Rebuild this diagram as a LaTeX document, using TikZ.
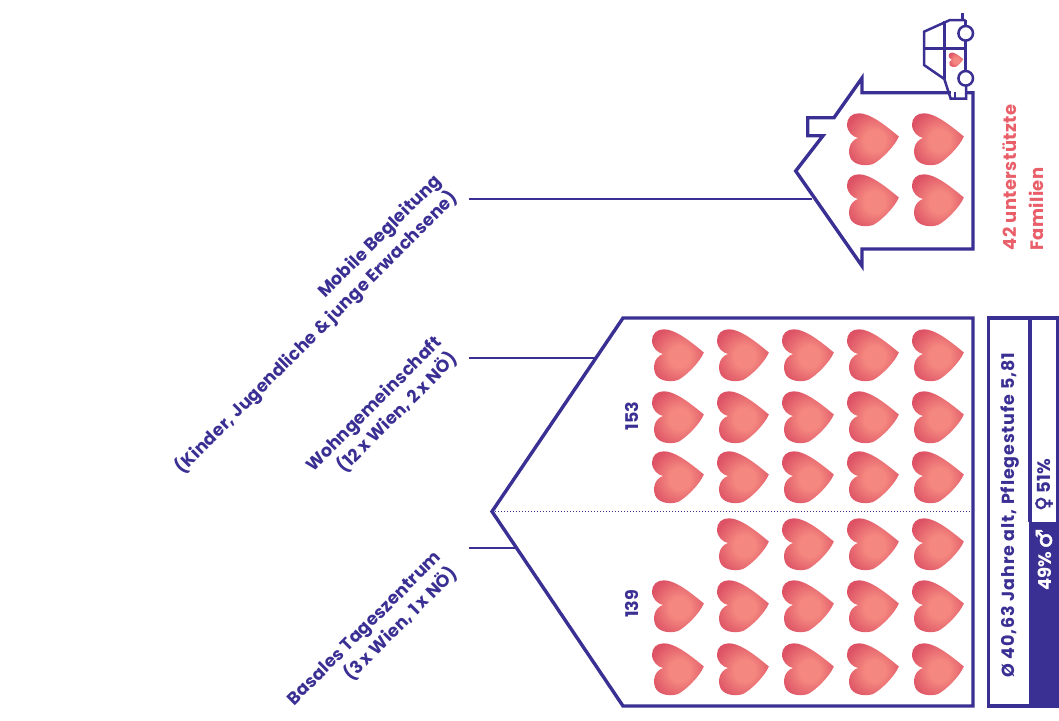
\documentclass[tikz,border=0pt]{standalone}
\usepackage{fontspec}
\setmainfont{Poppins}
\newfontfamily\symfont[FakeBold=2.5]{DejaVu Sans}
\definecolor{ink}{HTML}{3A2F93}
\definecolor{rosy}{HTML}{E95F69}
\definecolor{heartin}{HTML}{F4877F}
\definecolor{heartout}{HTML}{DD5265}
\pgfdeclareradialshading{heartshade}{\pgfpoint{2bp}{-1bp}}{color(0bp)=(heartin); color(10bp)=(heartin); color(29bp)=(heartout); color(60bp)=(heartout)}
\tikzset{
  outline/.style={draw=ink,line width=3.4pt,line join=miter,fill=white},
  thin line/.style={draw=ink,line width=2pt},
  carline/.style={draw=ink,line width=2.5pt,line join=miter},
  lab/.style={text=ink,font=\bfseries\fontsize{17.5}{23}\selectfont\addfontfeature{LetterSpace=1.2},rotate=45,anchor=east,align=right,inner sep=0pt},
  num/.style={text=ink,font=\bfseries\fontsize{17.5}{18}\selectfont,rotate=90,inner sep=0pt},
  stat/.style={font=\bfseries\fontsize{17.5}{18}\selectfont\addfontfeature{LetterSpace=5},rotate=90,inner sep=0pt},
  gender/.style={font=\bfseries\fontsize{18}{18}\selectfont,rotate=90,inner sep=0pt},
}
\newcommand{\heartat}[3]{%
  \begin{scope}[shift={(#1,#2)},scale=#3]
  \shade[shading=heartshade]
    (0,0) .. controls (-5,-1) and (-11,-6) .. (-11,-13.5)
    .. controls (-11.2,-20) and (-6,-25) .. (1,-24.7)
    .. controls (11,-24.5) and (23,-16.5) .. (40.8,-1.5)
    .. controls (37,8) and (23,22) .. (15,26)
    .. controls (7,28.5) and (-3,27) .. (-7,21)
    .. controls (-11,14) and (-9,3) .. (0,0) -- cycle;
  \end{scope}}
\begin{document}
\begin{tikzpicture}[x=1pt,y=-1pt]
\useasboundingbox (0,0) rectangle (1059,720);
% coordinates
\coordinate (c1a) at (469,198.5);
\coordinate (c1b) at (812,198.5);
\coordinate (c2a) at (469,357.5);
\coordinate (c2b) at (596,357.5);
\coordinate (c3a) at (469,548);
\coordinate (c3b) at (516,548);
% connectors
\draw[thin line] (c1a) -- (c1b);
\draw[thin line] (c2a) -- (c2b);
\draw[thin line] (c3a) -- (c3b);
% small house
\draw[outline] (795.7,171) -- (823,135.7) -- (807.7,135.7) -- (807.7,117.7) -- (834,117.7)
  -- (862,78) -- (862,92.7) -- (973,92.7) -- (973,249) -- (862,249) -- (862,266) -- cycle;
% car
\fill[white] (951,91) rectangle (965,98.7);
\draw[carline] (962.3,13) -- (962.3,20);
\draw[carline] (965.7,20) -- (950,20) -- (924,31.7) -- (924,65) -- (944.3,79) -- (950.7,98.7) -- (966,98.7) -- (966,86);
\draw[carline] (965.7,20) -- (965.7,26);
\draw[carline] (965.7,41) -- (965.7,71);
\draw[carline] (944.3,21) -- (944.3,79);
\draw[carline] (924,48.3) -- (965.7,48.3);
\draw[carline] (955,92) -- (955,98.7);
\draw[carline,fill=white] (965.7,33.3) circle[radius=7.3];
\draw[carline,fill=white] (965.7,78.3) circle[radius=7.3];
\heartat{951.7}{59.5}{0.28}
% small house hearts
\foreach \hx in {858,923} \foreach \hy in {138,199} {\heartat{\hx}{\hy}{1}}
% big house
\draw[outline] (623,318) -- (973,318) -- (973,706) -- (623,706) -- (492,511.5) -- cycle;
\draw[draw=ink,line width=1pt,dotted] (492,511.5) -- (973,511.5);
\foreach \hx in {663,728,793,858,923} \foreach \hy in {354,416,476,605,668} {\heartat{\hx}{\hy}{1}}
\foreach \hx in {728,793,858,923} {\heartat{\hx}{543}{1}}
% stat box
\draw[draw=ink,line width=3.4pt,fill=white] (988.5,318) rectangle (1058,706);
\fill[ink] (1029,522) rectangle (1059,707.7);
\draw[draw=ink,line width=3.4pt] (1030,318) -- (1030,522);
% text
\node[lab] (mobile) at (447,187) {Mobile Begleitung\\(Kinder, Jugendliche \& junge Erwachsene)};
\node[lab] (wohn) at (447,348) {Wohngemeinschaft\\(12\,x Wien, 2\,x NÖ)};
\node[lab] (basal) at (447,563) {Basales Tageszentrum\\(3\,x Wien, 1\,x NÖ)};
\node[num] (n153) at (632,416) {153};
\node[num] (n139) at (632,604) {139};
\node[stat,text=ink,anchor=west] (age) at (1010,678) {Ø 40,63 Jahre alt, Pflegestufe 5,81};
\node[gender,text=white,anchor=west] (male) at (1044,590.5) {49\%\,{\symfont\fontsize{22}{22}\selectfont ♂}};
\node[gender,text=ink,anchor=west] (female) at (1044,511) {{\symfont\fontsize{20}{20}\selectfont ♀}\,51\%};
\node[text=rosy,font=\bfseries\fontsize{18}{27}\selectfont\addfontfeature{LetterSpace=2},rotate=90,anchor=center,align=left,inner sep=0pt] (fam) at (1023.5,177.5) {42 unterstützte\\Familien};
\end{tikzpicture}
\end{document}
